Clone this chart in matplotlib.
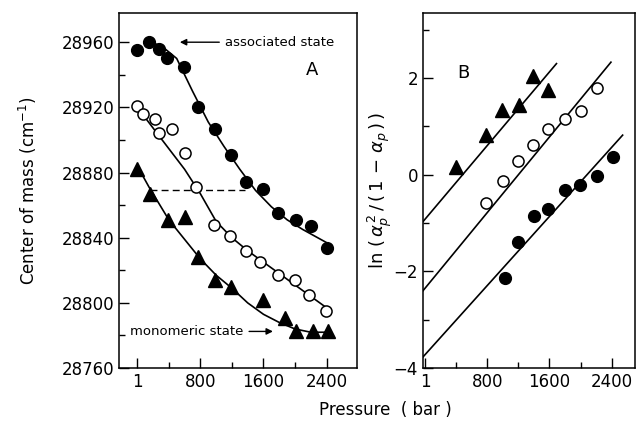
import matplotlib
matplotlib.use("Agg")
import matplotlib.pyplot as plt
from matplotlib.ticker import FixedLocator

plt.rcParams['font.family'] = ['DejaVu Sans']

# ---- panel A: center of mass vs pressure ----
p_assoc = [1, 150, 280, 380, 590, 770, 990, 1190, 1380, 1590, 1780, 2010, 2200, 2410]
v_assoc = [28955, 28960, 28956, 28950, 28945, 28920, 28907, 28891, 28874, 28870,
           28855, 28851, 28847, 28834]
fit_assoc_p = [150, 300, 500, 700, 900, 1100, 1300, 1500, 1700, 1900, 2100, 2400]
fit_assoc_v = [28960, 28958, 28950, 28930, 28911, 28896, 28882, 28869, 28859, 28851, 28845, 28837]

p_mid = [1, 70, 220, 280, 440, 605, 745, 970, 1180, 1380, 1560, 1780, 2000, 2180, 2390]
v_mid = [28921, 28916, 28913, 28904, 28907, 28892, 28871, 28848, 28841, 28832, 28825,
         28817, 28814, 28805, 28795]
fit_mid_p = [1, 300, 600, 800, 1000, 1200, 1400, 1600, 1800, 2000, 2200, 2400]
fit_mid_v = [28920, 28901, 28882, 28867, 28850, 28840, 28832, 28825, 28818, 28811, 28804, 28797]

p_mono = [1, 160, 385, 600, 765, 980, 1190, 1590, 1870, 2015, 2225, 2415]
v_mono = [28882, 28867, 28851, 28853, 28828, 28814, 28810, 28802, 28791, 28783, 28783, 28783]
fit_mono_p = [1, 150, 400, 600, 800, 1000, 1200, 1400, 1600, 1800, 2000, 2200, 2400]
fit_mono_v = [28884, 28871, 28851, 28839, 28827, 28817, 28809, 28800, 28793, 28788, 28784, 28782, 28782]

# ---- panel B: ln(a^2/(1-a)) vs pressure ----
pb_tri = [405, 790, 995, 1215, 1385, 1585]
vb_tri = [0.16, 0.82, 1.35, 1.44, 2.05, 1.75]
line_tri_p = [-25, 1690]
line_tri_v = [-0.97, 2.3]

pb_open = [790, 1000, 1195, 1385, 1580, 1800, 2005, 2205]
vb_open = [-0.58, -0.12, 0.28, 0.61, 0.94, 1.16, 1.32, 1.80]
line_open_p = [-25, 2390]
line_open_v = [-2.40, 2.33]

pb_fill = [1025, 1195, 1395, 1580, 1800, 1995, 2205, 2410]
vb_fill = [-2.13, -1.40, -0.86, -0.71, -0.32, -0.22, -0.03, 0.37]
line_fill_p = [-25, 2540]
line_fill_v = [-3.77, 0.82]

xticks = [1, 800, 1600, 2400]
xminor = [400, 1200, 2000]

fig = plt.figure(figsize=(6.37, 4.29), dpi=100)
axA = fig.add_axes([0.187, 0.142, 0.374, 0.828])
axB = fig.add_axes([0.664, 0.142, 0.333, 0.828])

lw = 1.2
# panel A
axA.plot(fit_assoc_p, fit_assoc_v, 'k-', lw=lw)
axA.plot(fit_mid_p, fit_mid_v, 'k-', lw=lw)
axA.plot(fit_mono_p, fit_mono_v, 'k-', lw=lw)
axA.plot([160, 1370], [28869, 28869], 'k--', lw=1.0, dashes=(5, 3))
axA.plot(p_assoc, v_assoc, 'o', color='k', ms=8.5, ls='none')
axA.plot(p_mid, v_mid, 'o', mfc='white', mec='k', mew=1.1, ms=8, ls='none')
axA.plot(p_mono, v_mono, '^', color='k', ms=9.5, ls='none')

axA.annotate('associated state', xy=(540, 28960), xytext=(1110, 28960),
             fontsize=9.5, va='center', ha='left',
             arrowprops=dict(arrowstyle='-|>', color='k', lw=1.0, shrinkA=2, shrinkB=0))
axA.annotate('monomeric state', xy=(1720, 28782.5), xytext=(-90, 28782.5),
             fontsize=9.5, va='center', ha='left',
             arrowprops=dict(arrowstyle='-|>', color='k', lw=1.0, shrinkA=2, shrinkB=0))
axA.text(2220, 28943, 'A', fontsize=13, ha='center', va='center')

axA.set_xlim(-230, 2790)
axA.set_ylim(28760, 28978)
axA.yaxis.set_major_locator(FixedLocator([28760, 28800, 28840, 28880, 28920, 28960]))
axA.yaxis.set_minor_locator(FixedLocator([28780, 28820, 28860, 28900, 28940]))
axA.set_ylabel('Center of mass (cm$^{-1}$)', fontsize=12, labelpad=16)

# panel B
axB.plot(line_tri_p, line_tri_v, 'k-', lw=lw)
axB.plot(line_open_p, line_open_v, 'k-', lw=lw)
axB.plot(line_fill_p, line_fill_v, 'k-', lw=lw)
axB.plot(pb_tri, vb_tri, '^', color='k', ms=9.5, ls='none')
axB.plot(pb_open, vb_open, 'o', mfc='white', mec='k', mew=1.1, ms=8, ls='none')
axB.plot(pb_fill, vb_fill, 'o', color='k', ms=8.5, ls='none')
axB.text(490, 2.1, 'B', fontsize=13, ha='center', va='center')

axB.set_xlim(-25, 2700)
axB.set_ylim(-4, 3.35)
axB.yaxis.set_major_locator(FixedLocator([-4, -2, 0, 2]))
axB.yaxis.set_minor_locator(FixedLocator([-3, -1, 1, 3]))
axB.set_ylabel(r'ln $(\,\alpha_p^{\,2}\,/\,(\,1\,-\,\alpha_p\,)\,)$', fontsize=13, labelpad=0)

for ax in (axA, axB):
    ax.xaxis.set_major_locator(FixedLocator(xticks))
    ax.xaxis.set_minor_locator(FixedLocator(xminor))
    ax.set_xticklabels([str(t) for t in xticks])
    ax.tick_params(which='major', direction='in', length=7, width=1, labelsize=12)
    ax.tick_params(which='minor', direction='in', length=4, width=1)
    for s in ax.spines.values():
        s.set_linewidth(1.1)

fig.text(0.605, 0.045, 'Pressure  ( bar )', fontsize=12, ha='center', va='center')

fig.savefig('out.png', dpi=100)
